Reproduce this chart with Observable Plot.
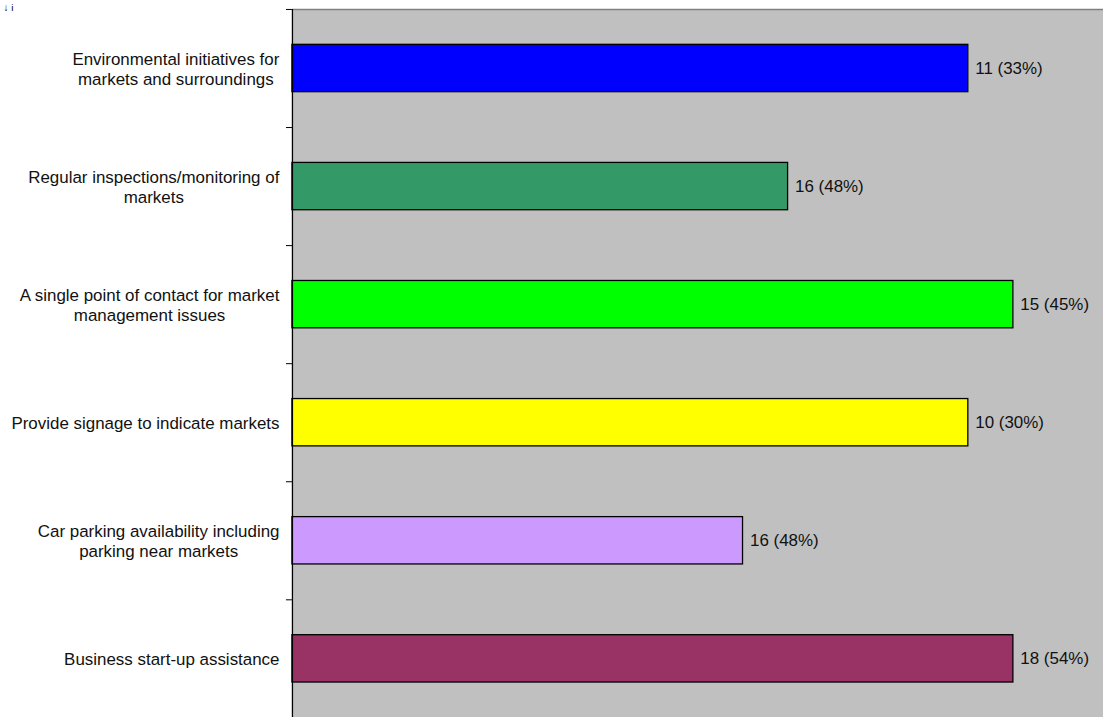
<!DOCTYPE html>
<html>
<head>
<meta charset="utf-8">
<script src="https://cdn.jsdelivr.net/npm/d3@7"></script>
<script src="https://cdn.jsdelivr.net/npm/@observablehq/plot@0.6"></script>
<style>
  html, body { margin: 0; padding: 0; background: #fff; overflow: hidden; }
  #chart { width: 1103px; height: 717px; overflow: hidden; }
</style>
</head>
<body>
<div id="chart"></div>
<script>
const categories = [
  "Environmental initiatives for\nmarkets and surroundings",
  "Regular inspections/monitoring of\nmarkets",
  "A single point of contact for market\nmanagement issues",
  "Provide signage to indicate markets",
  "Car parking availability including\nparking near markets",
  "Business start-up assistance"
];
const barValues = [15, 11, 16, 15, 10, 16];
const valueLabels = ["11 (33%)", "16 (48%)", "15 (45%)", "10 (30%)", "16 (48%)", "18 (54%)"];
const barColors = ["#0000FF", "#339966", "#00FF00", "#FFFF00", "#CC99FF", "#993366"];
const xDomain = [0, 18];

const data = categories.map((c, i) => ({
  i, c, v: barValues[i], label: valueLabels[i], color: barColors[i]
}));

const font = "'Liberation Sans', Arial, sans-serif";

const chart = Plot.plot({
  width: 1107,
  height: 720,
  marginLeft: 293,
  marginRight: 0,
  marginTop: 9,
  marginBottom: 0,
  style: { fontFamily: font, background: "transparent" },
  x: { domain: xDomain, axis: null },
  y: { domain: [0, categories.length], reverse: true, axis: null },
  color: { type: "identity" },
  marks: [
    Plot.frame({ fill: "#c0c0c0", stroke: "none" }),
    Plot.ruleY([0], { stroke: "#808080", strokeWidth: 1.5 }),
    Plot.rectX(data, {
      x1: 0, x2: "v", y1: "i", y2: d => d.i + 1,
      fill: "color", stroke: "black", strokeWidth: 1.3,
      insetTop: 35.5, insetBottom: 35.5
    }),
    Plot.text(data, {
      x: "v", y: d => d.i + 0.5, text: "label",
      textAnchor: "start", dx: 7, fontSize: 17, fill: "#111"
    }),
    Plot.text(data, {
      x: 0, y: d => d.i + 0.5, text: "c",
      textAnchor: "end", dx: -13, fontSize: 17, lineHeight: 1.18, fill: "#111"
    }),
    Plot.ruleX([0], { stroke: "black", strokeWidth: 1.3 }),
    Plot.axisY({ ticks: d3.range(categories.length + 1), tickSize: 6, tickFormat: () => "", stroke: "black" })
  ]
});

document.getElementById("chart").appendChild(chart);

// Center-align each multi-line category label block while keeping its right edge in place
const textGroups = chart.querySelectorAll('g[aria-label="text"]');
const catGroup = textGroups[textGroups.length - 1];
catGroup.querySelectorAll("text").forEach(t => {
  const bb = t.getBBox();
  const w = bb.width;
  const tr = t.getAttribute("transform") || "";
  const m = tr.match(/translate\(([-\d.]+),\s*([-\d.]+)\)/);
  if (!m) return;
  const x = +m[1] - w / 2, y = +m[2];
  t.setAttribute("transform", `translate(${x},${y})`);
  t.setAttribute("text-anchor", "middle");
});
catGroup.setAttribute("text-anchor", "middle");
</script>
</body>
</html>
